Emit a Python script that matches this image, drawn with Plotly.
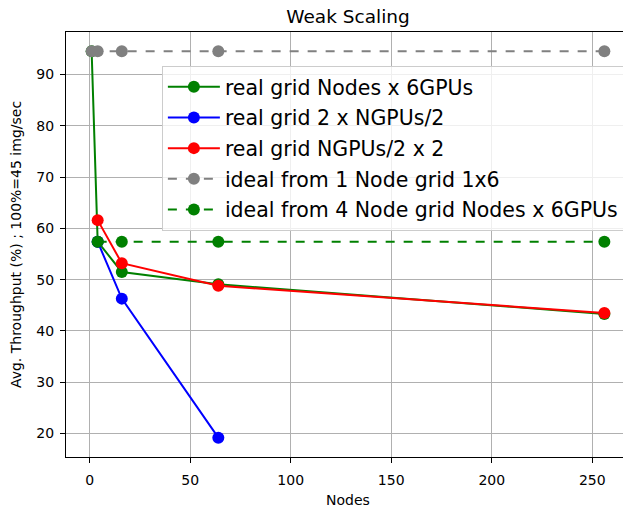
import plotly.graph_objects as go

nodes_real = [1, 4, 16, 64, 256]
real_nodes_6gpus = [94.5, 57.4, 51.5, 49.1, 43.3]

nodes_blue = [4, 16, 64]
real_2_ngpus = [57.4, 46.3, 19.2]

nodes_red = [4, 16, 64, 256]
real_ngpus_2 = [61.6, 53.2, 48.8, 43.5]

nodes_ideal1 = [1, 4, 16, 64, 256]
ideal_1node = [94.5, 94.5, 94.5, 94.5, 94.5]

nodes_ideal4 = [4, 16, 64, 256]
ideal_4node = [57.4, 57.4, 57.4, 57.4]

names = ["real grid Nodes x 6GPUs", "real grid 2 x NGPUs/2", "real grid NGPUs/2 x 2",
         "ideal from 1 Node grid 1x6", "ideal from 4 Node grid Nodes x 6GPUs"]

fig = go.Figure()
series = [
    (nodes_real, real_nodes_6gpus, "#008000", "solid"),
    (nodes_blue, real_2_ngpus, "#0000ff", "solid"),
    (nodes_red, real_ngpus_2, "#ff0000", "solid"),
    (nodes_ideal1, ideal_1node, "#808080", "dash"),
    (nodes_ideal4, ideal_4node, "#008000", "dash"),
]
for i, ((x, y, c, d), n) in enumerate(zip(series, names)):
    fig.add_trace(go.Scatter(x=x, y=y, name=n, mode="lines+markers",
                             legendgroup=f"g{i}",
                             line=dict(color=c, width=2, dash=d),
                             marker=dict(color=c, size=12)))

axis_common = dict(showgrid=True, gridcolor="#b0b0b0", gridwidth=1, showline=True,
                   linecolor="black", linewidth=1, mirror=True, ticks="outside",
                   ticklen=5, tickcolor="black", zeroline=False, automargin=False,
                   tickfont=dict(size=14, color="black"))

# page body has an 8px margin; size the figure so the plot area lands where the reference has it
fig.update_layout(
    width=623, height=500,
    margin=dict(l=58, r=1, t=24, b=51),
    paper_bgcolor="white", plot_bgcolor="white",
    font=dict(family="DejaVu Sans", color="black"),
    title=dict(text="Weak Scaling", x=0.5, xref="paper", xanchor="center",
               y=0.982, yanchor="middle", font=dict(size=18.5)),
    xaxis=dict(range=[-11.75, 268.75], tickvals=[0, 50, 100, 150, 200, 250],
               ticklabelstandoff=5,
               title=dict(text="Nodes", font=dict(size=14)), **axis_common),
    yaxis=dict(range=[15.43, 98.27], tickvals=[20, 30, 40, 50, 60, 70, 80, 90],
               ticklabelstandoff=3,
               title=dict(text="Avg. Throughput (%) ; 100%=45 img/sec", font=dict(size=14)),
               **axis_common),
    legend=dict(x=0.17, y=0.92, xanchor="left", yanchor="top",
                bgcolor="rgba(255,255,255,0.8)", bordercolor="#cccccc", borderwidth=1,
                font=dict(size=20.5), itemwidth=52, tracegroupgap=1),
    showlegend=True,
)

fig.write_html("out.html")
